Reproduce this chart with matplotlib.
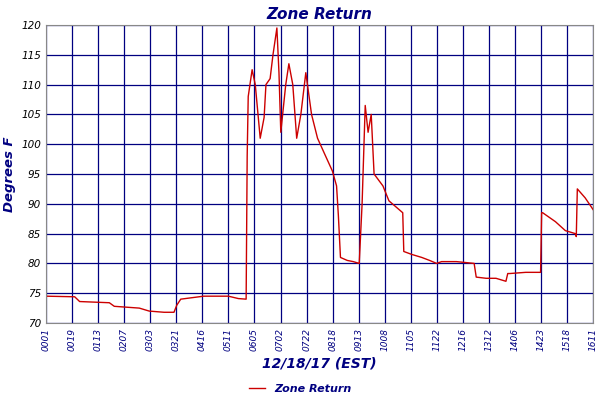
import matplotlib
matplotlib.use("Agg")
import matplotlib.pyplot as plt

tick_labels = ["0001","0019","0113","0207","0303","0321","0416","0511","0605","0702","0722",
               "0818","0913","1008","1105","1122","1216","1312","1406","1423","1518","1611"]
pos = [0, 1.1, 1.29, 2.43, 2.62, 3.58, 3.96, 4.53, 4.91, 5.02, 5.17, 6.05, 7.0, 7.38, 7.68,
       7.72, 7.76, 7.91, 8.03, 8.22, 8.37, 8.44, 8.6, 8.71, 8.86, 8.94, 9.01, 9.2, 9.32, 9.47,
       9.62, 9.78, 9.97, 10.19, 10.42, 10.73, 10.99, 11.15, 11.22, 11.3, 11.56, 11.79, 12.02,
       12.13, 12.25, 12.36, 12.48, 12.59, 12.93, 13.16, 13.69, 13.73, 14.04, 14.42, 14.72,
       14.99, 15.18, 15.75, 16.43, 16.51, 16.89, 17.27, 17.65, 17.72, 17.8, 18.41, 18.98,
       19.02, 19.06, 19.55, 19.93, 20.31, 20.35, 20.39, 20.69, 21.0]
temps = [74.5, 74.4, 73.6, 73.4, 72.8, 72.5, 72.0, 71.8, 71.8, 73.0, 74.0, 74.5, 74.5, 74.1, 74.0,
         98.0, 108.0, 112.5, 110.0, 101.0, 104.5, 110.0, 111.0, 115.0, 119.5, 112.0, 102.0, 110.0,
         113.5, 110.0, 101.0, 105.0, 112.0, 105.0, 101.0, 98.0, 95.5, 93.0, 88.0, 81.0, 80.5,
         80.3, 80.0, 90.0, 106.5, 102.0, 105.0, 95.0, 93.0, 90.5, 88.5, 82.0, 81.5, 81.0, 80.5,
         80.0, 80.3, 80.3, 80.0, 77.7, 77.5, 77.5, 77.0, 78.3, 78.3, 78.5, 78.5, 88.5, 88.5,
         87.0, 85.5, 85.0, 84.5, 92.5, 91.0, 89.0]

navy = "#000080"
fig = plt.figure(figsize=(6, 4), dpi=100)
ax = fig.add_axes([0.0767, 0.1925, 0.912, 0.745])
line, = ax.plot(pos, temps, color="#cc0000", lw=1)
ax.set_xlim(0, 21)
ax.set_ylim(70, 120)
ax.set_xticks(range(len(tick_labels)))
ax.set_xticklabels(tick_labels, rotation=90, fontsize=6.5, style="italic", color=navy)
ax.set_yticks(range(70, 121, 5))
ax.tick_params(axis="y", labelsize=7.5, colors="black", length=0)
ax.tick_params(axis="x", length=0)
for lbl in ax.get_yticklabels():
    lbl.set_style("italic")
ax.grid(True, color=navy, lw=0.9)
ax.set_axisbelow(True)
for s in ax.spines.values():
    s.set_color("#888888")
ax.set_title("Zone Return", fontsize=11, style="italic", fontweight="bold", color=navy, pad=4)
ax.set_xlabel("12/18/17 (EST)", fontsize=10, style="italic", fontweight="bold", color=navy, labelpad=4)
ax.set_ylabel("Degrees F", fontsize=9.5, style="italic", fontweight="bold", color=navy, labelpad=4)
leg = fig.legend([line], ["Zone Return"], loc="lower center", bbox_to_anchor=(0.5, -0.01),
                 frameon=False, prop={"style": "italic", "weight": "bold", "size": 8},
                 handlelength=1.5)
for t in leg.get_texts():
    t.set_color(navy)
fig.savefig("out.png")
